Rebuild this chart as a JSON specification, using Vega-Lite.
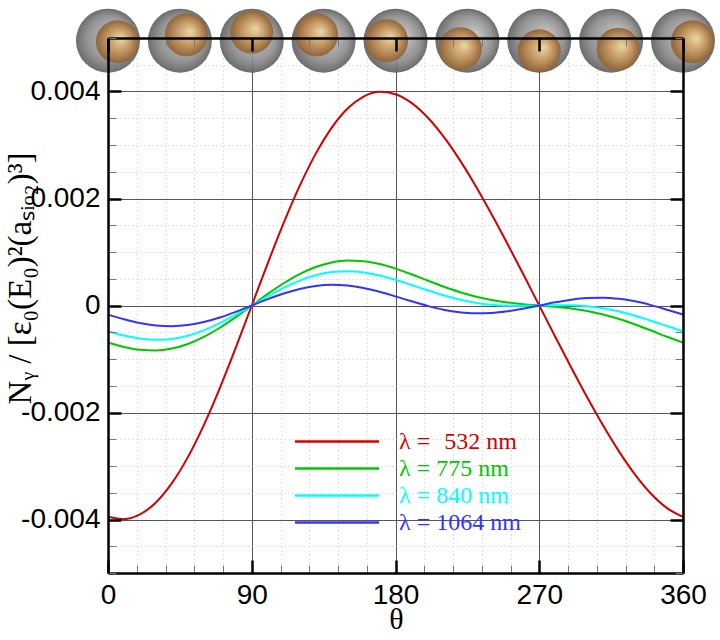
{
  "$schema": "https://vega.github.io/schema/vega-lite/v6.json",
  "width": 575,
  "height": 535,
  "autosize": {"type": "none"},
  "padding": {"left": 108, "top": 38, "right": 37, "bottom": 67},
  "background": "white",
  "config": {"view": {"stroke": null}},
  "datasets": {
    "curves": [
      {"theta": 0, "n532": -0.00395, "n775": -0.00069, "n840": -0.00048, "n1064": -0.00017},
      {"theta": 10, "n532": -0.003993, "n775": -0.000775, "n840": -0.000562, "n1064": -0.000256},
      {"theta": 20, "n532": -0.003905, "n775": -0.000828, "n840": -0.000618, "n1064": -0.000327},
      {"theta": 30, "n532": -0.003681, "n775": -0.00084, "n840": -0.000641, "n1064": -0.000372},
      {"theta": 40, "n532": -0.003321, "n775": -0.000804, "n840": -0.000624, "n1064": -0.000386},
      {"theta": 50, "n532": -0.002834, "n775": -0.000719, "n840": -0.000565, "n1064": -0.000365},
      {"theta": 60, "n532": -0.002235, "n775": -0.000588, "n840": -0.000465, "n1064": -0.00031},
      {"theta": 70, "n532": -0.001544, "n775": -0.000416, "n840": -0.000331, "n1064": -0.000225},
      {"theta": 80, "n532": -0.000789, "n775": -0.000216, "n840": -0.000172, "n1064": -0.000118},
      {"theta": 90, "n532": 0, "n775": 0, "n840": 0, "n1064": 0},
      {"theta": 100, "n532": 0.000789, "n775": 0.000216, "n840": 0.000172, "n1064": 0.000118},
      {"theta": 110, "n532": 0.001544, "n775": 0.000416, "n840": 0.000331, "n1064": 0.000225},
      {"theta": 120, "n532": 0.002235, "n775": 0.000588, "n840": 0.000465, "n1064": 0.00031},
      {"theta": 130, "n532": 0.002834, "n775": 0.000719, "n840": 0.000565, "n1064": 0.000365},
      {"theta": 140, "n532": 0.003321, "n775": 0.000804, "n840": 0.000624, "n1064": 0.000386},
      {"theta": 150, "n532": 0.003681, "n775": 0.00084, "n840": 0.000641, "n1064": 0.000372},
      {"theta": 160, "n532": 0.003905, "n775": 0.000828, "n840": 0.000618, "n1064": 0.000327},
      {"theta": 170, "n532": 0.003993, "n775": 0.000775, "n840": 0.000562, "n1064": 0.000256},
      {"theta": 180, "n532": 0.00395, "n775": 0.00069, "n840": 0.00048, "n1064": 0.00017},
      {"theta": 190, "n532": 0.003787, "n775": 0.000584, "n840": 0.000384, "n1064": 0.000079},
      {"theta": 200, "n532": 0.003519, "n775": 0.000468, "n840": 0.000284, "n1064": -0.000007},
      {"theta": 210, "n532": 0.003161, "n775": 0.000355, "n840": 0.000191, "n1064": -0.000078},
      {"theta": 220, "n532": 0.002731, "n775": 0.000253, "n840": 0.000112, "n1064": -0.000126},
      {"theta": 230, "n532": 0.002244, "n775": 0.000168, "n840": 0.000053, "n1064": -0.000147},
      {"theta": 240, "n532": 0.001715, "n775": 0.000103, "n840": 0.000015, "n1064": -0.00014},
      {"theta": 250, "n532": 0.001158, "n775": 0.000056, "n840": -0.000003, "n1064": -0.000109},
      {"theta": 260, "n532": 0.000583, "n775": 0.000024, "n840": -0.000006, "n1064": -0.000059},
      {"theta": 270, "n532": 0, "n775": 0, "n840": 0, "n1064": 0},
      {"theta": 280, "n532": -0.000583, "n775": -0.000024, "n840": 0.000006, "n1064": 0.000059},
      {"theta": 290, "n532": -0.001158, "n775": -0.000056, "n840": 0.000003, "n1064": 0.000109},
      {"theta": 300, "n532": -0.001715, "n775": -0.000103, "n840": -0.000015, "n1064": 0.00014},
      {"theta": 310, "n532": -0.002244, "n775": -0.000168, "n840": -0.000053, "n1064": 0.000147},
      {"theta": 320, "n532": -0.002731, "n775": -0.000253, "n840": -0.000112, "n1064": 0.000126},
      {"theta": 330, "n532": -0.003161, "n775": -0.000355, "n840": -0.000191, "n1064": 0.000078},
      {"theta": 340, "n532": -0.003519, "n775": -0.000468, "n840": -0.000284, "n1064": 0.000007},
      {"theta": 350, "n532": -0.003787, "n775": -0.000584, "n840": -0.000384, "n1064": -0.000079},
      {"theta": 360, "n532": -0.00395, "n775": -0.00069, "n840": -0.00048, "n1064": -0.00017}
    ],
    "spheres": [
      {"theta": 0, "y": 0.00495},
      {"theta": 45, "y": 0.00495},
      {"theta": 90, "y": 0.00495},
      {"theta": 135, "y": 0.00495},
      {"theta": 180, "y": 0.00495},
      {"theta": 225, "y": 0.00495},
      {"theta": 270, "y": 0.00495},
      {"theta": 315, "y": 0.00495},
      {"theta": 360, "y": 0.00495}
    ],
    "cores": [
      {"theta": 5.9, "y": 0.00493},
      {"theta": 49.1, "y": 0.00506},
      {"theta": 90, "y": 0.00511},
      {"theta": 130.6, "y": 0.00506},
      {"theta": 174.4, "y": 0.00495},
      {"theta": 220.6, "y": 0.0048},
      {"theta": 270, "y": 0.00476},
      {"theta": 319.4, "y": 0.00479},
      {"theta": 365.9, "y": 0.00493}
    ]
  },
  "resolve": {"axis": {"x": "independent", "y": "independent"}},
  "layer": [
    {
      "data": {"name": "curves"},
      "transform": [
        {"fold": ["n532", "n775", "n840", "n1064"], "as": ["series", "value"]}
      ],
      "mark": {"type": "line", "strokeWidth": 2, "interpolate": "monotone"},
      "encoding": {
        "x": {
          "field": "theta", "type": "quantitative",
          "scale": {"domain": [0, 360], "nice": false, "zero": false},
          "axis": {
            "orient": "bottom", "zindex": 0,
            "values": [0, 18, 36, 54, 72, 90, 108, 126, 144, 162, 180, 198, 216, 234, 252, 270, 288, 306, 324, 342, 360],
            "grid": true,
            "gridColor": {"condition": {"test": "datum.value % 90 === 0", "value": "#555555"}, "value": "#c8c8c8"},
            "gridDash": {"condition": {"test": "datum.value % 90 === 0", "value": []}, "value": [1, 3]},
            "domain": false, "ticks": false,
            "labelExpr": "datum.value % 90 === 0 ? datum.label : ''",
            "labelFont": "Liberation Sans", "labelFontSize": 28, "labelColor": "black",
            "labelPadding": 8, "labelFlush": false, "labelOverlap": false,
            "title": "θ", "titleFont": "Liberation Serif", "titleFontSize": 30,
            "titleFontWeight": "normal", "titleColor": "black",
            "titleX": 288, "titleY": 55, "titleBaseline": "alphabetic"
          }
        },
        "y": {
          "field": "value", "type": "quantitative",
          "scale": {"domain": [-0.005, 0.005], "nice": false, "zero": false},
          "axis": {
            "orient": "left", "zindex": 0,
            "values": [-0.005, -0.0045, -0.004, -0.0035, -0.003, -0.0025, -0.002, -0.0015, -0.001, -0.0005, 0, 0.0005, 0.001, 0.0015, 0.002, 0.0025, 0.003, 0.0035, 0.004, 0.0045, 0.005],
            "format": ".3~f",
            "grid": true,
            "gridColor": {"condition": {"test": "abs(datum.value * 500 - round(datum.value * 500)) < 0.001 && abs(datum.value) < 0.0049", "value": "#555555"}, "value": "#c8c8c8"},
            "gridDash": {"condition": {"test": "abs(datum.value * 500 - round(datum.value * 500)) < 0.001", "value": []}, "value": [1, 3]},
            "domain": false, "ticks": false,
            "labelExpr": "abs(datum.value * 500 - round(datum.value * 500)) < 0.001 && abs(datum.value) < 0.0049 ? replace(datum.label, '−', '-') : ''",
            "labelFont": "Liberation Sans", "labelFontSize": 28, "labelColor": "black",
            "labelPadding": 8, "labelFlush": false, "labelOverlap": false,
            "title": "Nᵧ / [ε₀(E₀)²(aₛᵢₒ₂)³]", "titleFont": "Liberation Serif", "titleFontSize": 33,
            "titleFontWeight": "normal", "titleColor": "black",
            "titleX": -78, "titleY": 240, "titleAngle": 270, "titleAlign": "center", "titleBaseline": "alphabetic"
          }
        },
        "color": {
          "field": "series", "type": "nominal",
          "scale": {"domain": ["n532", "n775", "n840", "n1064"], "range": ["#d40000", "#00c800", "#00ffff", "#3333ff"]},
          "legend": {
            "orient": "none", "legendX": 215.5, "legendY": 390, "title": null,
            "symbolType": "M-3.5,0H3.5", "symbolSize": 576, "symbolStrokeWidth": 2.5,
            "labelFont": "Liberation Serif", "labelFontSize": 24, "labelOffset": 48.5,
            "rowPadding": 1, "padding": 0, "labelLimit": 300,
            "labelExpr": "datum.label === 'n532' ? 'λ = \u2004532 nm' : datum.label === 'n775' ? 'λ = 775 nm' : datum.label === 'n840' ? 'λ = 840 nm' : 'λ = 1064 nm'",
            "encode": {"labels": {"update": {"fill": {"scale": "color", "field": "value"}}}}
          }
        }
      }
    },
    {
      "data": {"name": "spheres"},
      "mark": {
        "type": "point", "shape": "circle", "size": 4096, "filled": true, "opacity": 0.9,
        "color": {
          "gradient": "radial", "x1": 0.62, "y1": 0.4, "r1": 0, "x2": 0.5, "y2": 0.5, "r2": 0.5,
          "stops": [{"offset": 0, "color": "#c4c4c4"}, {"offset": 0.7, "color": "#8a8a8a"}, {"offset": 1, "color": "#5c5c5c"}]
        }
      },
      "encoding": {
        "x": {
          "field": "theta", "type": "quantitative",
          "scale": {"domain": [0, 360], "nice": false, "zero": false},
          "axis": {
            "orient": "bottom", "zindex": 1,
            "values": [0, 18, 36, 54, 72, 90, 108, 126, 144, 162, 180, 198, 216, 234, 252, 270, 288, 306, 324, 342, 360],
            "grid": false, "labels": false, "title": null,
            "domain": true, "domainColor": "black", "domainWidth": 2.5,
            "ticks": true,
            "tickSize": {"condition": {"test": "datum.value % 90 === 0", "value": -13}, "value": -8},
            "tickWidth": {"condition": {"test": "datum.value % 90 === 0", "value": 2.5}, "value": 1},
            "tickColor": {"condition": {"test": "datum.value % 90 === 0", "value": "black"}, "value": "#777777"}
          }
        },
        "y": {
          "field": "y", "type": "quantitative",
          "scale": {"domain": [-0.005, 0.005], "nice": false, "zero": false},
          "axis": {
            "orient": "left", "zindex": 1,
            "values": [-0.005, -0.0045, -0.004, -0.0035, -0.003, -0.0025, -0.002, -0.0015, -0.001, -0.0005, 0, 0.0005, 0.001, 0.0015, 0.002, 0.0025, 0.003, 0.0035, 0.004, 0.0045, 0.005],
            "grid": false, "labels": false, "title": null,
            "domain": true, "domainColor": "black", "domainWidth": 2.5,
            "ticks": true,
            "tickSize": {"condition": {"test": "abs(datum.value * 500 - round(datum.value * 500)) < 0.001", "value": -13}, "value": -8},
            "tickWidth": {"condition": {"test": "abs(datum.value * 500 - round(datum.value * 500)) < 0.001", "value": 2.5}, "value": 1},
            "tickColor": {"condition": {"test": "abs(datum.value * 500 - round(datum.value * 500)) < 0.001", "value": "black"}, "value": "#777777"}
          }
        }
      }
    },
    {
      "data": {"name": "cores"},
      "mark": {
        "type": "point", "shape": "circle", "size": 1849, "filled": true, "opacity": 0.95,
        "color": {
          "gradient": "radial", "x1": 0.6, "y1": 0.42, "r1": 0, "x2": 0.5, "y2": 0.5, "r2": 0.5,
          "stops": [{"offset": 0, "color": "#eed9a4"}, {"offset": 0.55, "color": "#c4955e"}, {"offset": 1, "color": "#8e6236"}]
        }
      },
      "encoding": {
        "x": {
          "field": "theta", "type": "quantitative",
          "scale": {"domain": [0, 360], "nice": false, "zero": false},
          "axis": {
            "orient": "top", "zindex": 1,
            "values": [0, 18, 36, 54, 72, 90, 108, 126, 144, 162, 180, 198, 216, 234, 252, 270, 288, 306, 324, 342, 360],
            "grid": false, "labels": false, "title": null,
            "domain": true, "domainColor": "black", "domainWidth": 2.5,
            "ticks": true,
            "tickSize": {"condition": {"test": "datum.value % 90 === 0", "value": -13}, "value": -8},
            "tickWidth": {"condition": {"test": "datum.value % 90 === 0", "value": 2.5}, "value": 1},
            "tickColor": {"condition": {"test": "datum.value % 90 === 0", "value": "black"}, "value": "#777777"}
          }
        },
        "y": {
          "field": "y", "type": "quantitative",
          "scale": {"domain": [-0.005, 0.005], "nice": false, "zero": false},
          "axis": {
            "orient": "right", "zindex": 1,
            "values": [-0.005, -0.0045, -0.004, -0.0035, -0.003, -0.0025, -0.002, -0.0015, -0.001, -0.0005, 0, 0.0005, 0.001, 0.0015, 0.002, 0.0025, 0.003, 0.0035, 0.004, 0.0045, 0.005],
            "grid": false, "labels": false, "title": null,
            "domain": true, "domainColor": "black", "domainWidth": 2.5,
            "ticks": true,
            "tickSize": {"condition": {"test": "abs(datum.value * 500 - round(datum.value * 500)) < 0.001", "value": -13}, "value": -8},
            "tickWidth": {"condition": {"test": "abs(datum.value * 500 - round(datum.value * 500)) < 0.001", "value": 2.5}, "value": 1},
            "tickColor": {"condition": {"test": "abs(datum.value * 500 - round(datum.value * 500)) < 0.001", "value": "black"}, "value": "#777777"}
          }
        }
      }
    }
  ]
}
